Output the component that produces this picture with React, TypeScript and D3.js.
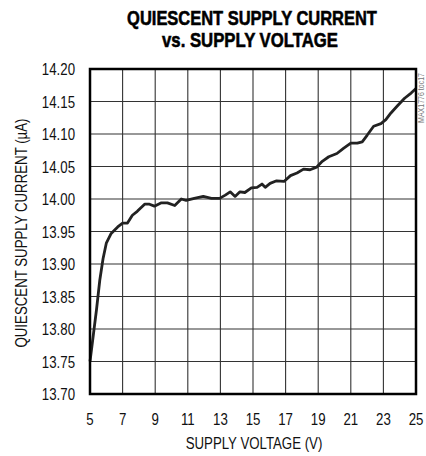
import React, { useEffect, useRef } from 'react';
import * as d3 from 'd3';

// supply voltage (V)
const voltage = [
  5.0, 5.2, 5.4, 5.6, 5.8, 6.0, 6.3, 6.7, 7.0, 7.3, 7.6, 7.9, 8.35, 8.65, 8.95,
  9.35, 9.75, 10.2, 10.6, 10.9, 11.4, 11.95, 12.45, 12.95, 13.3, 13.6, 13.9,
  14.2, 14.5, 14.9, 15.25, 15.55, 15.75, 16.05, 16.45, 16.9, 17.3, 17.7, 18.1,
  18.5, 18.9, 19.25, 19.65, 20.15, 20.55, 21.0, 21.4, 21.7, 22.0, 22.4, 22.85,
  23.15, 23.45, 23.85, 24.3, 24.7, 25.0,
];

// quiescent supply current (uA)
const current = [
  13.75, 13.79, 13.83, 13.875, 13.908, 13.932, 13.947, 13.957, 13.963, 13.963,
  13.975, 13.981, 13.992, 13.992, 13.989, 13.994, 13.994, 13.99, 14.0, 13.998,
  14.001, 14.004, 14.001, 14.001, 14.006, 14.011, 14.004, 14.011, 14.01, 14.017,
  14.018, 14.023, 14.018, 14.024, 14.028, 14.027, 14.036, 14.04, 14.046, 14.045,
  14.049, 14.058, 14.065, 14.07, 14.078, 14.086, 14.086, 14.088, 14.098, 14.112,
  14.116, 14.122, 14.132, 14.143, 14.155, 14.163, 14.17,
];

const xTicks = [5, 7, 9, 11, 13, 15, 17, 19, 21, 23, 25];
const yTicks = [13.7, 13.75, 13.8, 13.85, 13.9, 13.95, 14.0, 14.05, 14.1, 14.15, 14.2];

const titleLines = ['QUIESCENT SUPPLY CURRENT', 'vs. SUPPLY VOLTAGE'];

// helvetica narrow look: arial metrics squeezed horizontally
const font = '"Liberation Sans", Arial, sans-serif';
const squeeze = 0.78;

const App = () => {
  const svgRef = useRef<SVGSVGElement>(null);

  useEffect(() => {
    const width = 426;
    const height = 456;
    const plot = { left: 90, right: 416, top: 69, bottom: 394 };

    const svg = d3.select(svgRef.current)
      .attr('width', width)
      .attr('height', height);
    svg.selectAll('*').remove();

    const x = d3.scaleLinear().domain([5, 25]).range([plot.left, plot.right]);
    const y = d3.scaleLinear().domain([13.7, 14.2]).range([plot.bottom, plot.top]);

    svg.append('rect')
      .attr('width', width)
      .attr('height', height)
      .attr('fill', '#fff');

    // grid
    svg.append('g')
      .selectAll('line')
      .data(xTicks.slice(1, -1))
      .join('line')
      .attr('x1', d => x(d)).attr('x2', d => x(d))
      .attr('y1', plot.top).attr('y2', plot.bottom)
      .attr('stroke', '#333')
      .attr('stroke-width', 1.1);

    svg.append('g')
      .selectAll('line')
      .data(yTicks.slice(1, -1))
      .join('line')
      .attr('y1', d => y(d)).attr('y2', d => y(d))
      .attr('x1', plot.left).attr('x2', plot.right)
      .attr('stroke', '#333')
      .attr('stroke-width', 1.1);

    // trace
    const line = d3.line<number>()
      .x((d, i) => x(voltage[i]))
      .y(d => y(d));

    svg.append('path')
      .datum(current)
      .attr('fill', 'none')
      .attr('stroke', '#222')
      .attr('stroke-width', 2.8)
      .attr('stroke-linejoin', 'round')
      .attr('d', line);

    // frame
    svg.append('rect')
      .attr('x', plot.left)
      .attr('y', plot.top)
      .attr('width', plot.right - plot.left)
      .attr('height', plot.bottom - plot.top)
      .attr('fill', 'none')
      .attr('stroke', '#000')
      .attr('stroke-width', 2.5);

    // tick labels
    svg.append('g')
      .selectAll('text')
      .data(xTicks)
      .join('text')
      .attr('transform', d => `translate(${x(d)},425) scale(${squeeze},1)`)
      .attr('text-anchor', 'middle')
      .style('font-family', font)
      .style('font-size', '17px')
      .style('fill', '#111')
      .text(d => d);

    svg.append('g')
      .selectAll('text')
      .data(yTicks)
      .join('text')
      .attr('transform', d => `translate(75,${y(d) + 6}) scale(${squeeze},1)`)
      .attr('text-anchor', 'end')
      .style('font-family', font)
      .style('font-size', '17px')
      .style('fill', '#111')
      .text(d => d3.format('.2f')(d));

    // axis titles
    svg.append('text')
      .attr('transform', `translate(254,449) scale(${squeeze},1)`)
      .attr('text-anchor', 'middle')
      .style('font-family', font)
      .style('font-size', '17px')
      .style('fill', '#111')
      .text('SUPPLY VOLTAGE (V)');

    svg.append('text')
      .attr('transform', `translate(27,233) rotate(-90) scale(${squeeze},1)`)
      .attr('text-anchor', 'middle')
      .style('font-family', font)
      .style('font-size', '17px')
      .style('fill', '#111')
      .text('QUIESCENT SUPPLY CURRENT (\u00B5A)');

    // title, squeezed to the width of the original condensed black type
    const titleBox = [
      { cx: 252, y: 25, w: 250 },
      { cx: 250, y: 47, w: 176 },
    ];
    titleLines.forEach((t, i) => {
      const node = svg.append('text')
        .attr('text-anchor', 'middle')
        .style('font-family', font)
        .style('font-weight', 'bold')
        .style('font-size', '21px')
        .style('fill', '#000')
        .style('stroke', '#000')
        .style('stroke-width', '0.6px')
        .text(t);
      const natural = (node.node() as SVGTextElement).getComputedTextLength() || titleBox[i].w;
      const s = titleBox[i].w / natural;
      node.attr('transform', `translate(${titleBox[i].cx},${titleBox[i].y}) scale(${s},1)`);
    });

    // figure tag
    svg.append('text')
      .attr('transform', `translate(424,98) rotate(-90) scale(${squeeze},1)`)
      .attr('text-anchor', 'middle')
      .style('font-family', font)
      .style('font-size', '9px')
      .style('fill', '#777')
      .text('MAX1776 toc17');
  }, []);

  return (
    <svg ref={svgRef} style={{ position: 'absolute', left: 0, top: 0 }}></svg>
  );
};

export default App;
